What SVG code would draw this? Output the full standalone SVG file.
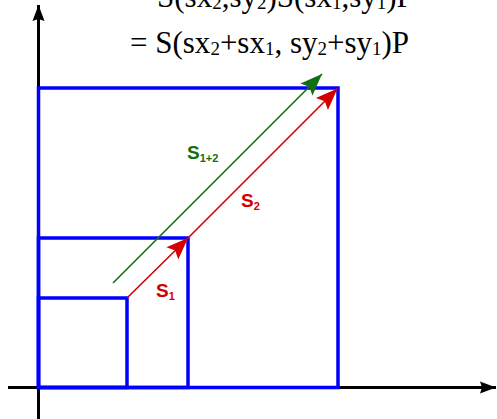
<svg xmlns="http://www.w3.org/2000/svg" width="497" height="419" viewBox="0 0 497 419">
  <style>
    .axis { stroke: #000; stroke-width: 3; fill: none; }
    .sq { stroke: #0000ff; stroke-width: 3.5; fill: none; }
    .red { stroke: #d40000; stroke-width: 1.6; fill: none; }
    .green { stroke: #107010; stroke-width: 1.6; fill: none; }
    .formula { font-family: "Liberation Serif", "Times New Roman", serif; font-size: 31px; fill: #000; }
    .sub { font-size: 19px; }
    .lbl { font-family: "Liberation Sans", Arial, sans-serif; font-weight: bold; font-size: 19px; }
    .lsub { font-size: 11px; }
  </style>
  <defs>
    <marker id="ahBlack" markerUnits="userSpaceOnUse" viewBox="-18 -7 19 14" refX="0" refY="0" markerWidth="19" markerHeight="14" orient="auto">
      <path d="M0,0 L-16,-6 L-14,0 L-16,6 Z" fill="#000"/>
    </marker>
    <marker id="ahRed" markerUnits="userSpaceOnUse" viewBox="-24 -10 25 20" refX="0" refY="0" markerWidth="25" markerHeight="20" orient="auto">
      <path d="M0,0 L-22,-8.5 L-18,0 L-22,8.5 Z" fill="#d40000"/>
    </marker>
    <marker id="ahGreen" markerUnits="userSpaceOnUse" viewBox="-24 -10 25 20" refX="0" refY="0" markerWidth="25" markerHeight="20" orient="auto">
      <path d="M0,0 L-22,-8.5 L-18,0 L-22,8.5 Z" fill="#107010"/>
    </marker>
  </defs>

  <rect width="497" height="419" fill="#fff"/>

  <g id="axes">
    <line class="axis" x1="8" y1="387.5" x2="496" y2="387.5" marker-end="url(#ahBlack)"/>
    <line class="axis" x1="38.5" y1="419" x2="38.5" y2="5" marker-end="url(#ahBlack)"/>
  </g>

  <g id="square-large"><rect class="sq" x="38.5" y="88" width="299.5" height="299.5"/></g>
  <g id="square-medium"><rect class="sq" x="38.5" y="238" width="149.5" height="149.5"/></g>
  <g id="square-small"><rect class="sq" x="38.5" y="298" width="88.5" height="89.5"/></g>

  <g id="connectors">
    <line class="red" x1="127" y1="298" x2="188" y2="238" marker-end="url(#ahRed)"/>
    <line class="red" x1="188" y1="238" x2="337.5" y2="88.5" marker-end="url(#ahRed)"/>
    <line class="green" x1="113" y1="283" x2="322" y2="74" marker-end="url(#ahGreen)"/>
  </g>

  <g id="label-s12" class="lbl" fill="#107010">
    <text x="187" y="159">S<tspan class="lsub" dy="3">1+2</tspan></text>
  </g>
  <g id="label-s2" class="lbl" fill="#d40000">
    <text x="241" y="207">S<tspan class="lsub" dy="3">2</tspan></text>
  </g>
  <g id="label-s1" class="lbl" fill="#d40000">
    <text x="156" y="297">S<tspan class="lsub" dy="3">1</tspan></text>
  </g>

  <g id="formula" class="formula">
    <text x="157" y="7">S(sx<tspan class="sub" dy="2">2</tspan><tspan dy="-2">,sy</tspan><tspan class="sub" dy="2">2</tspan><tspan dy="-2">)S(sx</tspan><tspan class="sub" dy="2">1</tspan><tspan dy="-2">,sy</tspan><tspan class="sub" dy="2">1</tspan><tspan dy="-2">)P</tspan></text>
    <text x="130" y="53">= S(sx<tspan class="sub" dy="2">2</tspan><tspan dy="-2">+sx</tspan><tspan class="sub" dy="2">1</tspan><tspan dy="-2">, sy</tspan><tspan class="sub" dy="2">2</tspan><tspan dy="-2">+sy</tspan><tspan class="sub" dy="2">1</tspan><tspan dy="-2">)P</tspan></text>
  </g>
</svg>
